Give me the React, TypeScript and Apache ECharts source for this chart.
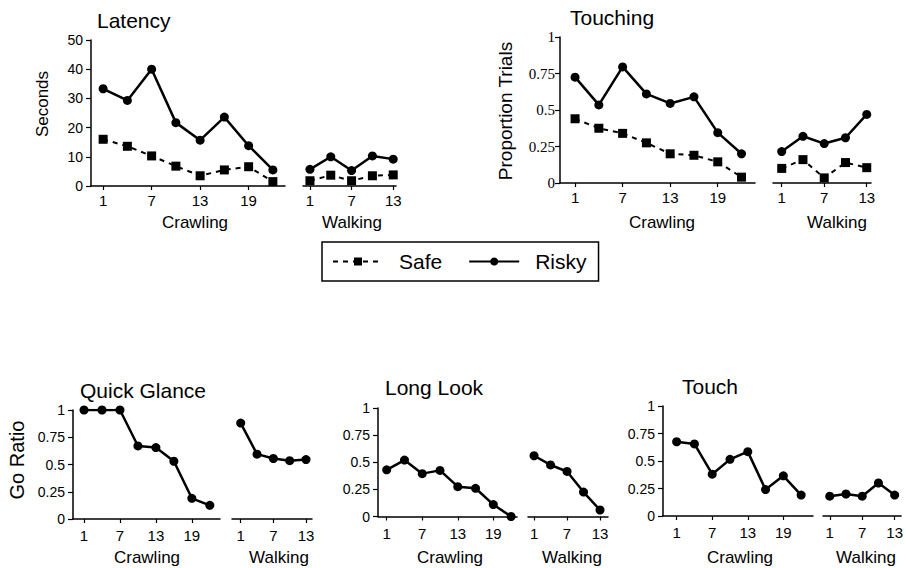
import React, { useEffect, useRef } from 'react';
import * as echarts from 'echarts';

// ---------- data ----------
const crawlSessions = [1, 4, 7, 10, 13, 16, 19, 22];
const walkSessions = [1, 4, 7, 10, 13];
const crawlTickLabels = [1, 7, 13, 19];
const walkTickLabels = [1, 7, 13];

const latencyCrawlSafe = [16, 13.6, 10.3, 6.8, 3.5, 5.5, 6.6, 1.5];
const latencyCrawlRisky = [33.3, 29.3, 40, 21.7, 15.7, 23.6, 13.8, 5.5];
const latencyWalkSafe = [1.8, 3.7, 1.8, 3.5, 3.8];
const latencyWalkRisky = [5.7, 10, 5.3, 10.3, 9.2];

const touchingCrawlSafe = [0.44, 0.375, 0.34, 0.275, 0.2, 0.19, 0.145, 0.04];
const touchingCrawlRisky = [0.725, 0.535, 0.795, 0.61, 0.545, 0.59, 0.345, 0.2];
const touchingWalkSafe = [0.1, 0.16, 0.035, 0.14, 0.105];
const touchingWalkRisky = [0.215, 0.32, 0.27, 0.31, 0.47];

const quickGlanceCrawl = [1, 1, 1, 0.67, 0.655, 0.53, 0.19, 0.125];
const quickGlanceWalk = [0.88, 0.595, 0.555, 0.535, 0.545];
const longLookCrawl = [0.43, 0.52, 0.395, 0.425, 0.275, 0.26, 0.11, 0];
const longLookWalk = [0.56, 0.475, 0.415, 0.225, 0.06];
const touchCrawl = [0.675, 0.655, 0.38, 0.515, 0.585, 0.24, 0.365, 0.19];
const touchWalk = [0.18, 0.2, 0.18, 0.3, 0.19];

const FONT = '"Liberation Sans", Arial, Helvetica, sans-serif';
const SERIF = '"Liberation Serif", "Times New Roman", serif';

const pairs = (xs: number[], ys: number[]) => xs.map((x, i) => [x, ys[i]]);

type Part = { left: number; right: number; min: number; max: number };
type PanelSeries = { name: string; kind: 'safe' | 'risky'; crawl: number[]; walk: number[] };
type Panel = {
  top: number;
  bottom: number;
  crawl: Part;
  walk: Part;
  yMax: number;
  yInterval: number;
  yFont: string;
  yFontSize: number;
  yMargin: number;
  labelMargin: number;
  series: PanelSeries[];
};

function buildOption() {
  const grid: any[] = [];
  const xAxis: any[] = [];
  const yAxis: any[] = [];
  const series: any[] = [];

  const lineStyleOf = (kind: 'safe' | 'risky') =>
    kind === 'safe'
      ? {
          symbol: 'rect',
          symbolSize: 9,
          lineStyle: { color: '#000', width: 2, type: [5, 5] },
          itemStyle: { color: '#000' },
        }
      : {
          symbol: 'circle',
          symbolSize: 9,
          lineStyle: { color: '#000', width: 2.5, type: 'solid' },
          itemStyle: { color: '#000' },
        };

  const panels: Panel[] = [
    {
      top: 40, bottom: 186,
      crawl: { left: 91, right: 285, min: -0.5, max: 23.5 },
      walk: { left: 303, right: 396, min: 0, max: 13.4 },
      yMax: 50, yInterval: 10, yFont: FONT, yFontSize: 14, yMargin: 8, labelMargin: 7,
      series: [
        { name: 'Safe', kind: 'safe', crawl: latencyCrawlSafe, walk: latencyWalkSafe },
        { name: 'Risky', kind: 'risky', crawl: latencyCrawlRisky, walk: latencyWalkRisky },
      ],
    },
    {
      top: 37, bottom: 183,
      crawl: { left: 560, right: 755, min: -0.9, max: 23.7 },
      walk: { left: 773, right: 871, min: -0.23, max: 13.6 },
      yMax: 1, yInterval: 0.25, yFont: SERIF, yFontSize: 15, yMargin: 5, labelMargin: 7,
      series: [
        { name: 'Safe', kind: 'safe', crawl: touchingCrawlSafe, walk: touchingWalkSafe },
        { name: 'Risky', kind: 'risky', crawl: touchingCrawlRisky, walk: touchingWalkRisky },
      ],
    },
    {
      top: 410, bottom: 519,
      crawl: { left: 73, right: 220, min: -0.84, max: 23.7 },
      walk: { left: 232, right: 312, min: -0.6, max: 14.1 },
      yMax: 1, yInterval: 0.25, yFont: FONT, yFontSize: 14, yMargin: 8, labelMargin: 9,
      series: [{ name: 'Quick Glance', kind: 'risky', crawl: quickGlanceCrawl, walk: quickGlanceWalk }],
    },
    {
      top: 408, bottom: 516.5,
      crawl: { left: 378, right: 517, min: -0.47, max: 23 },
      walk: { left: 528, right: 608, min: -0.1, max: 14.45 },
      yMax: 1, yInterval: 0.25, yFont: FONT, yFontSize: 14, yMargin: 8, labelMargin: 9,
      series: [{ name: 'Long Look', kind: 'risky', crawl: longLookCrawl, walk: longLookWalk }],
    },
    {
      top: 406, bottom: 516,
      crawl: { left: 663, right: 813, min: -1.3, max: 24 },
      walk: { left: 823, right: 904, min: -0.25, max: 14.2 },
      yMax: 1, yInterval: 0.25, yFont: FONT, yFontSize: 14, yMargin: 8, labelMargin: 9,
      series: [{ name: 'Touch', kind: 'risky', crawl: touchCrawl, walk: touchWalk }],
    },
  ];

  const axisLine = { show: true, lineStyle: { color: '#000', width: 1.5 } };

  panels.forEach((p) => {
    (['crawl', 'walk'] as const).forEach((part) => {
      const g = p[part];
      const idx = grid.length;
      grid.push({
        left: g.left,
        top: p.top,
        width: g.right - g.left,
        height: p.bottom - p.top,
        containLabel: false,
      });
      const ticks = part === 'crawl' ? crawlTickLabels : walkTickLabels;
      xAxis.push({
        type: 'value',
        gridIndex: idx,
        min: g.min,
        max: g.max,
        axisLine,
        splitLine: { show: false },
        axisTick: { show: true, length: 4, customValues: ticks, lineStyle: { color: '#000', width: 1.2 } },
        axisLabel: {
          show: true,
          customValues: ticks,
          margin: p.labelMargin,
          color: '#000',
          fontSize: 15,
          fontFamily: FONT,
        },
      });
      yAxis.push({
        type: 'value',
        gridIndex: idx,
        show: part === 'crawl',
        min: 0,
        max: p.yMax,
        interval: p.yInterval,
        axisLine: { ...axisLine, onZero: false },
        splitLine: { show: false },
        axisTick: { show: true, length: 5, lineStyle: { color: '#000', width: 1.2 } },
        axisLabel: {
          margin: p.yMargin,
          color: '#000',
          fontSize: p.yFontSize,
          fontFamily: p.yFont,
        },
      });
      p.series.forEach((s) => {
        series.push({
          type: 'line',
          name: s.name,
          xAxisIndex: idx,
          yAxisIndex: idx,
          data: pairs(part === 'crawl' ? crawlSessions : walkSessions, part === 'crawl' ? s.crawl : s.walk),
          ...lineStyleOf(s.kind),
        });
      });
    });
  });

  const titleStyle = { fontSize: 21, fontWeight: 'normal', color: '#000', fontFamily: FONT };
  const title = [
    { text: 'Latency', left: 97, top: 10 },
    { text: 'Touching', left: 570, top: 7 },
    { text: 'Quick Glance', left: 80, top: 380 },
    { text: 'Long Look', left: 385, top: 377 },
    { text: 'Touch', left: 682, top: 376 },
  ].map((t) => ({ ...t, padding: 0, textStyle: titleStyle }));

  const label = (text: string, x: number, y: number, size: number, rotate = false) => ({
    type: 'text',
    x,
    y,
    rotation: rotate ? Math.PI / 2 : 0,
    style: {
      text,
      fill: '#000',
      font: `${size}px ${FONT}`,
      textAlign: 'center',
      textVerticalAlign: 'middle',
    },
    silent: true,
  });

  const graphic = [
    label('Seconds', 42, 104, 17, true),
    label('Proportion Trials', 505, 111, 19, true),
    label('Go Ratio', 17, 460, 20, true),
    label('Crawling', 195, 222, 17),
    label('Walking', 352, 222, 17),
    label('Crawling', 662, 222, 17),
    label('Walking', 837, 222, 17),
    label('Crawling', 147, 557, 17),
    label('Walking', 279, 557, 17),
    label('Crawling', 450, 557, 17),
    label('Walking', 572, 557, 17),
    label('Crawling', 740, 557, 17),
    label('Walking', 866, 557, 17),
  ];

  return {
    animation: false,
    backgroundColor: '#fff',
    title,
    legend: {
      data: ['Safe', 'Risky'],
      left: 322,
      top: 242,
      orient: 'horizontal',
      padding: [9, 12, 9, 10],
      itemWidth: 50,
      itemHeight: 10,
      itemGap: 26,
      selectedMode: false,
      borderColor: '#000',
      borderWidth: 1.5,
      textStyle: { fontSize: 21, color: '#000', fontFamily: FONT, padding: [0, 0, 0, 11] },
    },
    grid,
    xAxis,
    yAxis,
    series,
    graphic,
  };
}

export default function App() {
  const ref = useRef<HTMLDivElement>(null);
  useEffect(() => {
    if (!ref.current) return;
    const chart = echarts.init(ref.current, undefined, { renderer: 'svg' });
    chart.setOption(buildOption() as any);
    return () => chart.dispose();
  }, []);
  return (
    <div
      ref={ref}
      style={{ position: 'absolute', left: 0, top: 0, width: 906, height: 568, background: '#fff' }}
    />
  );
}
